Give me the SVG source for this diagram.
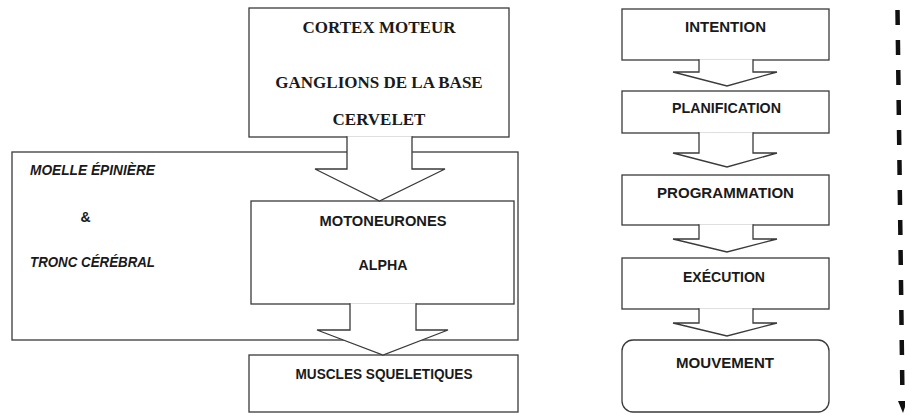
<svg xmlns="http://www.w3.org/2000/svg" width="905" height="414" viewBox="0 0 905 414">
<style>
.box{fill:#ffffff;stroke:#3a3a3a;stroke-width:1.3}
.arrow{fill:#ffffff;stroke:#3a3a3a;stroke-width:1.3;stroke-linejoin:miter}
.serif{font-family:"Liberation Serif","Times New Roman",serif;font-weight:bold;font-size:17px;fill:#1a1a1a;text-anchor:middle}
.sans{font-family:"Liberation Sans",Arial,sans-serif;font-weight:bold;font-size:14px;fill:#1a1a1a;text-anchor:middle}
.ital{font-family:"Liberation Sans",Arial,sans-serif;font-weight:bold;font-style:italic;font-size:14px;fill:#1a1a1a}
.dash{fill:none;stroke:#111111;stroke-width:4.5;stroke-dasharray:15 15}
</style>
<rect width="905" height="414" fill="#ffffff"/>
<g id="moelle-tronc">
<rect class="box" x="12" y="152" width="506" height="188"/>
<text class="ital" x="30" y="175" textLength="125" lengthAdjust="spacingAndGlyphs">MOELLE ÉPINIÈRE</text>
<text class="sans" x="85.5" y="222">&amp;</text>
<text class="ital" x="30" y="267" textLength="125" lengthAdjust="spacingAndGlyphs">TRONC CÉRÉBRAL</text>
</g>
<g id="cortex">
<rect class="box" x="249" y="8" width="260" height="129"/>
<text class="serif" x="379" y="33">CORTEX MOTEUR</text>
<text class="serif" x="379" y="88">GANGLIONS DE LA BASE</text>
<text class="serif" x="379" y="125">CERVELET</text>
</g>
<g id="motoneurones">
<rect class="box" x="251" y="201" width="263" height="103"/>
<text class="sans" x="383" y="226" textLength="127" lengthAdjust="spacingAndGlyphs">MOTONEURONES</text>
<text class="sans" x="383" y="270" textLength="49" lengthAdjust="spacingAndGlyphs">ALPHA</text>
</g>
<g id="muscles">
<rect class="box" x="249" y="355" width="269" height="57"/>
<text class="sans" x="384" y="379" textLength="177" lengthAdjust="spacingAndGlyphs">MUSCLES SQUELETIQUES</text>
</g>
<g id="intention">
<rect class="box" x="622" y="9" width="207" height="51"/>
<text class="sans" x="725.5" y="32" textLength="81" lengthAdjust="spacingAndGlyphs">INTENTION</text>
</g>
<g id="planification">
<rect class="box" x="622" y="91" width="207" height="42"/>
<text class="sans" x="726.5" y="113" textLength="109" lengthAdjust="spacingAndGlyphs">PLANIFICATION</text>
</g>
<g id="programmation">
<rect class="box" x="622" y="175" width="207" height="50"/>
<text class="sans" x="725.5" y="198" textLength="137" lengthAdjust="spacingAndGlyphs">PROGRAMMATION</text>
</g>
<g id="execution">
<rect class="box" x="622" y="258" width="207" height="51"/>
<text class="sans" x="724" y="282" textLength="82" lengthAdjust="spacingAndGlyphs">EXÉCUTION</text>
</g>
<g id="mouvement">
<rect class="box" x="622" y="340" width="207" height="72" rx="11" ry="11"/>
<text class="sans" x="725" y="368" textLength="98" lengthAdjust="spacingAndGlyphs">MOUVEMENT</text>
</g>
<g id="connectors">
<path class="arrow" d="M347,136.3 L347,169 L315,169 L379.5,201 L445,169 L412,169 L412,136.3"/>
<path class="arrow" d="M350,303.3 L350,330 L317,330 L383,355 L448,330 L416,330 L416,303.3"/>
<path class="arrow" d="M699,59.3 L699,72 L673,72 L727,86 L777,72 L753,72 L753,59.3"/>
<path class="arrow" d="M699,132.3 L699,153 L673,153 L727,167 L777,153 L753,153 L753,132.3"/>
<path class="arrow" d="M699,224.3 L699,239 L673,239 L727,252 L777,239 L753,239 L753,224.3"/>
<path class="arrow" d="M699,308.3 L699,323 L673,323 L727,336 L777,323 L753,323 L753,308.3"/>
<path class="dash" d="M897.5,10 L902.5,400"/>
<polygon points="898,401 907,401 903,413" fill="#111111"/>
</g>
</svg>
